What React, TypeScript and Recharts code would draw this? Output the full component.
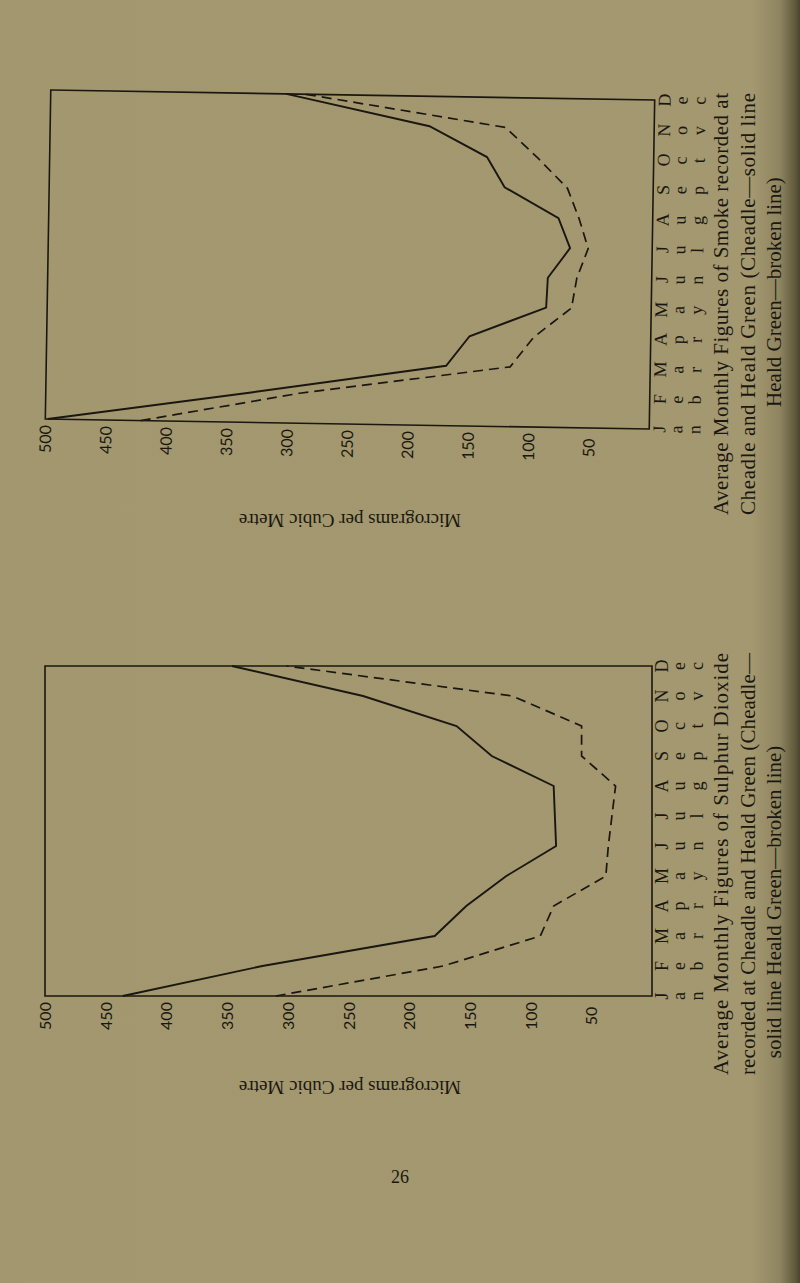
import React from 'react';
import { LineChart, Line, XAxis, YAxis, ReferenceArea } from 'recharts';

const months = ['Jan', 'Feb', 'Mar', 'Apr', 'May', 'Jun', 'Jul', 'Aug', 'Sep', 'Oct', 'Nov', 'Dec'];
const monthIndex = [0, 1, 2, 3, 4, 5, 6, 7, 8, 9, 10, 11];
const valueTicks = [50, 100, 150, 200, 250, 300, 350, 400, 450, 500];

// Smoke (micrograms per cubic metre)
const smokeCheadle = [498, 330, 169, 150, 87, 86, 68, 78, 123, 138, 186, 305];
const smokeHealdGreen = [421, 290, 116, 97, 66, 62, 53, 61, 71, 96, 123, 289];

// Sulphur dioxide (micrograms per cubic metre)
const so2Cheadle = [436, 321, 179, 153, 120, 79, 80, 81, 132, 161, 238, 346];
const so2HealdGreen = [310, 172, 92, 81, 38, 36, 33, 30, 58, 58, 115, 301];

const smokeCaption = [
  'Average Monthly Figures of Smoke recorded at',
  'Cheadle and Heald Green (Cheadle\u2014solid line',
  'Heald Green\u2014broken line)',
];
const so2Caption = [
  'Average Monthly Figures of Sulphur Dioxide',
  'recorded at Cheadle and Heald Green (Cheadle\u2014',
  'solid line Heald Green\u2014broken line)',
];
const axisTitle = 'Micrograms per Cubic Metre';
const pageNumber = '26';

const INK = '#1b1710';
const SERIF = "'Liberation Serif', 'DejaVu Serif', serif";
const SANS = "Lato, 'DejaVu Sans', sans-serif";

function ValueTick({ x, cy, value }: any) {
  return (
    <text
      transform={`translate(${x + 6},${cy}) rotate(-90)`}
      textAnchor="middle"
      fontFamily={SANS}
      fontSize={16}
      fill={INK}
    >
      {value}
    </text>
  );
}

function MonthTick({ y, label, xr }: any) {
  const offs = [16, 33, 51];
  return (
    <g>
      {String(label)
        .split('')
        .map((ch, i) => (
          <text
            key={i}
            transform={`translate(${xr + offs[i]},${y}) rotate(-90)`}
            textAnchor="middle"
            fontFamily={SERIF}
            fontSize={18}
            fill={INK}
          >
            {ch}
          </text>
        ))}
    </g>
  );
}

type Frame = { l: number; r: number; t: number; b: number };

const X_AXIS_H = 40;
const Y_AXIS_W = 60;

function MonthlyChart({
  top,
  height,
  frame,
  cheadle,
  heald,
  rotate,
}: {
  top: number;
  height: number;
  frame: Frame;
  cheadle: number[];
  heald: number[];
  rotate: number;
}) {
  const data = months.map((mo, i) => ({
    m: monthIndex[i],
    month: mo,
    cheadle: cheadle[i],
    heald: heald[i],
  }));
  return (
    <div
      style={{
        position: 'absolute',
        left: 0,
        top,
        width: 800,
        height,
        transform: `rotate(${rotate}deg)`,
        transformOrigin: `350px ${(frame.t + frame.b) / 2}px`,
      }}
    >
      <LineChart
        width={800}
        height={height}
        data={data}
        layout="vertical"
        margin={{
          top: frame.t,
          right: 800 - frame.r - Y_AXIS_W,
          bottom: height - frame.b - X_AXIS_H,
          left: frame.l,
        }}
      >
        <XAxis
          type="number"
          domain={[0, 500]}
          reversed
          allowDataOverflow
          ticks={valueTicks}
          interval={0}
          height={X_AXIS_H}
          axisLine={false}
          tickLine={false}
          tick={(p: any) => <ValueTick x={p.x} cy={frame.b + 20} value={p.payload.value} />}
        />
        <YAxis
          type="number"
          dataKey="m"
          domain={[0, 11]}
          reversed
          ticks={monthIndex}
          interval={0}
          orientation="right"
          width={Y_AXIS_W}
          axisLine={false}
          tickLine={false}
          tick={(p: any) => <MonthTick y={p.y} label={months[p.payload.value]} xr={frame.r} />}
        />
        <ReferenceArea
          x1={0}
          x2={500}
          y1={0}
          y2={11}
          fill="none"
          fillOpacity={0}
          stroke={INK}
          strokeWidth={1.6}
          ifOverflow="visible"
        />
        <Line
          type="linear"
          dataKey="cheadle"
          stroke={INK}
          strokeWidth={1.9}
          dot={false}
          isAnimationActive={false}
        />
        <Line
          type="linear"
          dataKey="heald"
          stroke={INK}
          strokeWidth={1.7}
          strokeDasharray="10 6"
          dot={false}
          isAnimationActive={false}
        />
      </LineChart>
    </div>
  );
}

function Caption({ lines, startY, line3Center }: { lines: string[]; startY: number; line3Center: number }) {
  const bx = [728, 755, 781];
  return (
    <g fontFamily={SERIF} fontSize={21} fill={INK}>
      <text transform={`translate(${bx[0]},${startY}) rotate(-90)`} textLength={422} lengthAdjust="spacing">
        {lines[0]}
      </text>
      <text transform={`translate(${bx[1]},${startY}) rotate(-90)`} textLength={422} lengthAdjust="spacing">
        {lines[1]}
      </text>
      <text transform={`translate(${bx[2]},${line3Center}) rotate(-90)`} textAnchor="middle">
        {lines[2]}
      </text>
    </g>
  );
}

export default function App() {
  return (
    <div
      style={{
        position: 'relative',
        width: 800,
        height: 1283,
        overflow: 'hidden',
        background:
          'linear-gradient(to right, #a2976e 0%, #a3986f 94%, #8e8460 97.5%, #5e5639 99.5%, #4a4430 100%)',
      }}
    >
      <style>{`body{margin:0;background:#a2976e;}`}</style>
      <MonthlyChart
        top={0}
        height={560}
        frame={{ l: 48, r: 652, t: 95, b: 424 }}
        cheadle={smokeCheadle}
        heald={smokeHealdGreen}
        rotate={0.95}
      />
      <MonthlyChart
        top={560}
        height={560}
        frame={{ l: 45, r: 652, t: 106, b: 436 }}
        cheadle={so2Cheadle}
        heald={so2HealdGreen}
        rotate={0}
      />
      <svg
        width={800}
        height={1283}
        style={{ position: 'absolute', left: 0, top: 0, pointerEvents: 'none' }}
      >
        <Caption lines={smokeCaption} startY={515} line3Center={292} />
        <Caption lines={so2Caption} startY={1075} line3Center={902} />
        <text
          transform="translate(350,514) rotate(180)"
          textAnchor="middle"
          fontFamily={SERIF}
          fontSize={19}
          fill={INK}
        >
          {axisTitle}
        </text>
        <text
          transform="translate(350,1081) rotate(180)"
          textAnchor="middle"
          fontFamily={SERIF}
          fontSize={19}
          fill={INK}
        >
          {axisTitle}
        </text>
        <text x={400} y={1183} textAnchor="middle" fontFamily={SERIF} fontSize={18} fill={INK}>
          {pageNumber}
        </text>
      </svg>
    </div>
  );
}
